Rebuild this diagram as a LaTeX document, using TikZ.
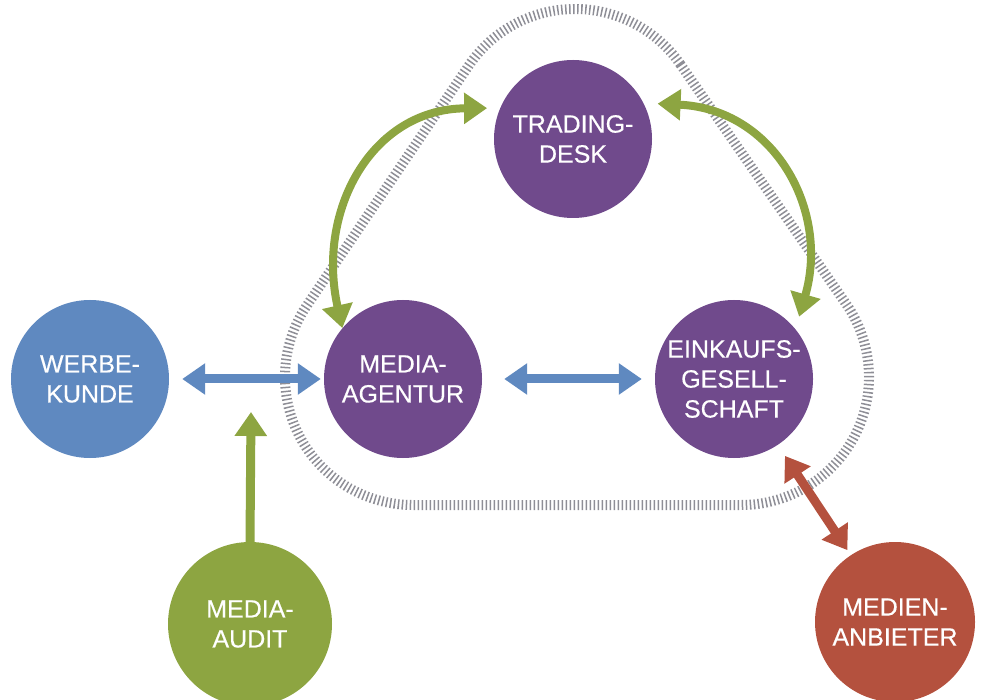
\documentclass[tikz,border=0pt]{standalone}
\usepackage{fontspec}
\setmainfont{Liberation Sans}
\newfontfamily\labelfont{Liberation Sans}[FakeBold=0.4]
\usetikzlibrary{arrows.meta}
\definecolor{purp}{HTML}{704A8C}
\definecolor{blu}{HTML}{5F89C0}
\definecolor{grn}{HTML}{8DA541}
\definecolor{rd}{HTML}{B4513E}
\definecolor{hatchgray}{HTML}{8E8E96}
\begin{document}
\begin{tikzpicture}[x=1pt,y=1pt,
  circ/.style={circle, minimum size=158pt, inner sep=0pt, text=white, align=center,
    font=\labelfont\fontsize{25}{30}\selectfont},
  conn/.style={line width=9pt, {Triangle[width=30pt,length=23pt]}-{Triangle[width=30pt,length=23pt]}},
  oneway/.style={line width=9pt, -{Triangle[width=31pt,length=24pt]}},
  curv/.style={line width=8pt, {Triangle[width=30pt,length=23pt]}-{Triangle[width=30pt,length=23pt]}},
  hatch/.style={draw=hatchgray, line width=10pt, dash pattern=on 1.5pt off 2.5pt}]
\useasboundingbox (0,0) rectangle (981,699);
\clip (0,0) rectangle (981,699);

% hatched hull around the three purple partners
\draw[hatch] ([shift={(34.67:128)}]575,562) arc[start angle=34.67, end angle=146, radius=128]
  -- ([shift={(146:128)}]413,322) arc[start angle=146, end angle=270, radius=128]
  -- ([shift={(270:128)}]741,322) arc[start angle=270, end angle=394.67, radius=128]
  -- cycle;

% participants
\node[circ, fill=purp] (td) at (573,560) {TRADING-\\DESK};
\node[circ, fill=purp] (ma) at (403,320) {MEDIA-\\AGENTUR};
\node[circ, fill=purp] (eg) at (734,320) {EINKAUFS-\\GESELL-\\SCHAFT};
\node[circ, fill=blu] (wk) at (90,320) {WERBE-\\KUNDE};
\node[circ, fill=grn, minimum size=164pt] (au) at (250,75) {MEDIA-\\AUDIT};
\node[circ, fill=rd, minimum size=160pt] (an) at (895,77) {MEDIEN-\\ANBIETER};
\coordinate (auEnd) at (251,287);

% relations
\draw[conn, blu, shorten <=13pt, shorten >=3pt] (wk.east) -- (ma.west);
\draw[conn, blu, shorten <=22pt, shorten >=13pt] (ma.east) -- (eg.west);
\draw[oneway, grn] (au.north) -- (auEnd);
\draw[conn, rd, shorten <=13pt, shorten >=6pt] (eg) -- (an);
\draw[curv, grn, shorten >=13pt] (ma.140) .. controls (316,489) and (372,590) .. (td.157);
\draw[curv, grn, shorten <=14pt, shorten >=13pt] (td.27) .. controls (774,590) and (830,489) .. (eg.39);
\end{tikzpicture}
\end{document}
